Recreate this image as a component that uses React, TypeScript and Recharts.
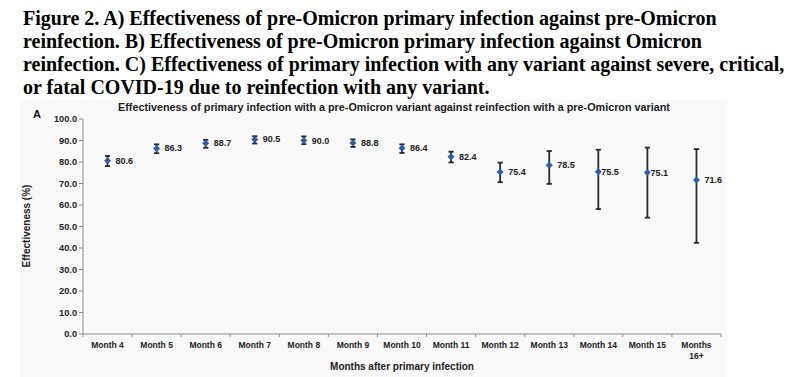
import React from "react";
import { ComposedChart, Line, XAxis, YAxis, ErrorBar, LabelList } from "recharts";

const months = ["Month 4", "Month 5", "Month 6", "Month 7", "Month 8", "Month 9", "Month 10", "Month 11", "Month 12", "Month 13", "Month 14", "Month 15", "Months 16+"];
const effectiveness = [80.6, 86.3, 88.7, 90.5, 90.0, 88.8, 86.4, 82.4, 75.4, 78.5, 75.5, 75.1, 71.6];
const lowerCI = [78.1, 84.1, 86.6, 88.6, 88.3, 87.0, 84.2, 79.8, 70.6, 69.8, 58.1, 54.1, 42.4];
const upperCI = [82.8, 88.2, 90.3, 92.0, 91.9, 90.5, 88.2, 84.8, 79.7, 85.1, 85.7, 86.7, 86.0];
const yTicks = [0, 10, 20, 30, 40, 50, 60, 70, 80, 90, 100];

const titleLines = [
  "Figure 2. A) Effectiveness of pre-Omicron primary infection against pre-Omicron",
  "reinfection. B) Effectiveness of pre-Omicron primary infection against Omicron",
  "reinfection. C) Effectiveness of primary infection with any variant against severe, critical,",
  "or fatal COVID-19 due to reinfection with any variant.",
];
const chartTitle = "Effectiveness of primary infection with a pre-Omicron variant against reinfection with a pre-Omicron variant";

const data = months.map((m, i) => ({
  month: m,
  value: effectiveness[i],
  err: [+(effectiveness[i] - lowerCI[i]).toFixed(2), +(upperCI[i] - effectiveness[i]).toFixed(2)],
}));

const W = 800;
const H = 377;
const PLOT_LEFT = 83;
const PLOT_RIGHT = 721;
const PLOT_TOP = 119;
const PLOT_BOTTOM = 334;
const BAND = (PLOT_RIGHT - PLOT_LEFT) / months.length;
const SANS = "'Liberation Sans', Arial, sans-serif";

const Diamond = (props: any) => {
  const { cx, cy } = props;
  if (cx == null || cy == null) return null;
  const r = 3.5;
  return <path d={`M${cx},${cy - r} L${cx + r},${cy} L${cx},${cy + r} L${cx - r},${cy} Z`} fill="#2f5ea8" />;
};

const XTick = (props: any) => {
  const { x, payload, index } = props;
  const label: string = payload.value;
  const lines = label.startsWith("Months ") ? ["Months", label.slice(7)] : [label];
  return (
    <g>
      <line x1={x - BAND / 2} x2={x - BAND / 2} y1={PLOT_BOTTOM} y2={PLOT_BOTTOM + 3} stroke="#8c8c8c" />
      {index === months.length - 1 && (
        <line x1={x + BAND / 2} x2={x + BAND / 2} y1={PLOT_BOTTOM} y2={PLOT_BOTTOM + 3} stroke="#8c8c8c" />
      )}
      {lines.map((l, i) => (
        <text key={i} x={x} y={PLOT_BOTTOM + 14 + i * 11} textAnchor="middle" fontFamily={SANS} fontWeight="bold" fontSize={8.5} fill="#222">
          {l}
        </text>
      ))}
    </g>
  );
};

const ValueLabel = (props: any) => {
  const { x, y, value, index } = props;
  const dx = index === 10 || index === 11 ? 3 : 8;
  return (
    <text x={x + dx} y={y + 3} fontFamily={SANS} fontWeight="bold" fontSize={9} fill="#222">
      {Number(value).toFixed(1)}
    </text>
  );
};

export default function App() {
  return (
    <div style={{ position: "relative", width: W, height: H, background: "#fff", overflow: "hidden" }}>
      <style>{`body{margin:0}`}</style>
      <div style={{ position: "absolute", left: 20, top: 100, width: 707, height: 277, background: "#f9f9f9" }} />
      <div style={{ position: "absolute", left: 23, top: 7, fontFamily: "'Liberation Serif', 'Times New Roman', serif", fontWeight: "bold", fontSize: 20, lineHeight: "23px", color: "#000", whiteSpace: "nowrap" }}>
        {titleLines.map((t, i) => (
          <div key={i}>{t}</div>
        ))}
      </div>
      <div style={{ position: "absolute", left: 0, top: 0 }}>
        <ComposedChart width={W} height={H} data={data} margin={{ top: PLOT_TOP, right: W - PLOT_RIGHT, bottom: 3, left: PLOT_LEFT - 40 }}>
          <text x={394} y={111} textAnchor="middle" fontFamily={SANS} fontWeight="bold" fontSize={10.8} fill="#222">
            {chartTitle}
          </text>
          <text x={37} y={118} textAnchor="middle" fontFamily={SANS} fontWeight="bold" fontSize={11} fill="#111">
            A
          </text>
          <text x={30} y={226} transform="rotate(-90 30 226)" textAnchor="middle" fontFamily={SANS} fontWeight="bold" fontSize={10} fill="#222">
            Effectiveness (%)
          </text>
          <text x={(PLOT_LEFT + PLOT_RIGHT) / 2} y={370} textAnchor="middle" fontFamily={SANS} fontWeight="bold" fontSize={10} fill="#222">
            Months after primary infection
          </text>
          <XAxis dataKey="month" scale="band" interval={0} tickLine={false} axisLine={{ stroke: "#8c8c8c" }} tick={<XTick />} height={40} />
          <YAxis
            domain={[0, 100]}
            ticks={yTicks}
            interval={0}
            width={40}
            tickFormatter={(v: number) => v.toFixed(1)}
            tick={{ fontFamily: SANS, fontWeight: "bold", fontSize: 9.2, fill: "#222" }}
            tickLine={{ stroke: "#8c8c8c" }}
            tickSize={4}
            tickMargin={2}
            axisLine={{ stroke: "#8c8c8c" }}
          />
          <Line dataKey="value" stroke="none" strokeWidth={0} dot={<Diamond />} activeDot={false} isAnimationActive={false}>
            <ErrorBar dataKey="err" width={2.6} strokeWidth={1.8} stroke="#2a2a2a" direction="y" />
            <LabelList dataKey="value" content={<ValueLabel />} />
          </Line>
        </ComposedChart>
      </div>
    </div>
  );
}
